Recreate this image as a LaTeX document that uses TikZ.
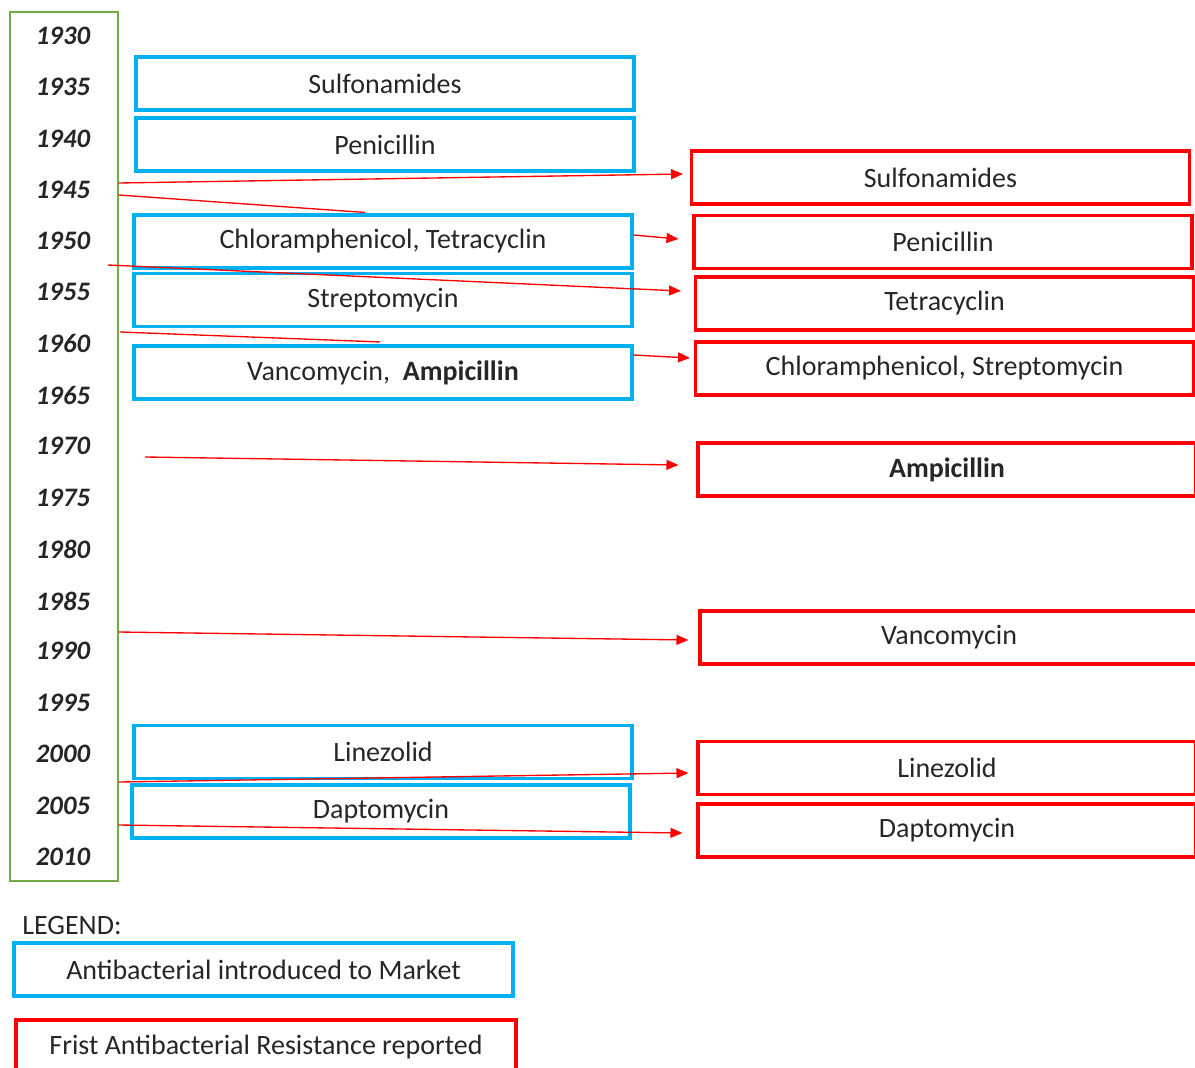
\documentclass[tikz,border=0pt]{standalone}
\usepackage{fontspec}
\setmainfont{Carlito}
\usetikzlibrary{arrows.meta,calc}
\definecolor{bl}{HTML}{00B0F0}
\definecolor{rd}{HTML}{FF0000}
\definecolor{gr}{HTML}{70AD47}
\begin{document}
\begin{tikzpicture}[x=0.75pt,y=-0.75pt,
  box/.style={draw,line width=2.3pt,minimum width=373.5pt,minimum height=39.75pt,inner sep=0pt,font=\fontsize{21}{25}\selectfont,text=black!85},
  bluebox/.style={box,draw=bl},
  redbox/.style={box,draw=rd},
  yr/.style={font=\fontsize{20}{24}\selectfont\bfseries\itshape,text=black!85},
  arr/.style={draw=rd,line width=1pt,-{Triangle[length=9pt,width=7.5pt]}},
  ln/.style={draw=rd,line width=1pt}]
\useasboundingbox (0,0) rectangle (1195,1067);
\clip (0,0) rectangle (1195,1067);
% timeline
\node[draw=gr,line width=1pt,minimum width=81pt,minimum height=651.75pt,inner sep=0pt] (tl) at (64,446.5) {};
\foreach \yy/\lab in {36/1930,87/1935,139/1940,190/1945,241/1950,292/1955,343/1960,395/1965,446/1970,498/1975,549/1980,601/1985,651/1990,703/1995,754/2000,806/2005,857/2010}
  \node[yr] (y\lab) at (63,\yy) {\lab};
% blue boxes
\node[bluebox] (bsulf) at (385,83.5) {Sulfonamides};
\node[bluebox] (bpen) at (385,144.5) {Penicillin};
\node[bluebox] (bchl) at (383,241.5) {Chloramphenicol, Tetracyclin};
\node[bluebox] (bstr) at (383,300) {Streptomycin};
\node[bluebox] (bvan) at (383,372.5) {Vancomycin,\ \ \textbf{Ampicillin}};
\node[bluebox] (blin) at (383,752) {Linezolid};
\node[bluebox] (bdap) at (381,811.5) {Daptomycin};
% red boxes
\node[redbox] (rsulf) at (940.5,177.5) {Sulfonamides};
\node[redbox] (rpen) at (943,242) {Penicillin};
\node[redbox] (rtet) at (944.5,303.5) {Tetracyclin};
\node[redbox] (rchl) at (944.5,368.5) {Chloramphenicol, Streptomycin};
\node[redbox] (ramp) at (947,469.5) {\textbf{Ampicillin}};
\node[redbox] (rvan) at (949,637.5) {Vancomycin};
\node[redbox] (rlin) at (947,768) {Linezolid};
\node[redbox] (rdap) at (947,830.5) {Daptomycin};
% connectors
\coordinate (s4) at (108,265);
\coordinate (s5) at (120,332);
\coordinate (s7) at (145,457);
\draw[arr] (tl.east |- 0,183) -- ($(rsulf.west)+(-7,-3.5)$);
\draw[ln] (tl.east |- 0,195) -- ($(bchl.north)+(-18,-1)$);
\draw[arr] ($(bchl.east)+(0,-6.5)$) -- ($(rpen.west)+(-14,-3)$);
\draw[arr] (s4) -- ($(rtet.west)+(-13,-12.5)$);
\draw[ln] (s5) -- ($(bvan.north)+(-3,-2.5)$);
\draw[arr] ($(bvan.east)+(0,-17.5)$) -- ($(rchl.west)+(-4,-10.5)$);
\draw[arr] (s7) -- ($(ramp.west)+(-18,-4.5)$);
\draw[arr] (tl.east |- 0,632) -- ($(rvan.west)+(-10,2.5)$);
\draw[arr] (tl.east |- 0,782) -- ($(rlin.west)+(-8,5)$);
\draw[arr] (tl.east |- 0,825) -- ($(rdap.west)+(-14,2.5)$);
% legend
\node[anchor=west,font=\fontsize{21}{25}\selectfont,text=black!85,inner sep=0pt] (leg) at (22,926) {LEGEND:};
\node[bluebox,minimum width=374.25pt] (lblue) at (263.5,969.5) {Antibacterial introduced to Market};
\node[redbox,minimum width=375pt,minimum height=41.25pt] (lred) at (266,1047.5) {Frist Antibacterial Resistance reported};
\end{tikzpicture}
\end{document}
